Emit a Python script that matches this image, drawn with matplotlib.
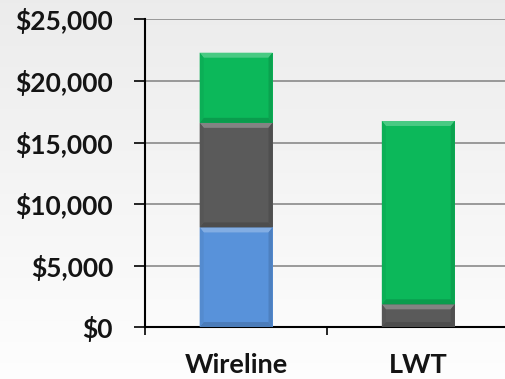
import numpy as np
import matplotlib.pyplot as plt
from matplotlib.patches import Polygon
from matplotlib.colors import to_rgb

categories = ['Wireline', 'LWT']
blue_vals = [8100, 0]
gray_vals = [8500, 1850]
green_vals = [5700, 14900]

colors = {'blue': '#5892da', 'gray': '#5a5a5a', 'green': '#0cb85a'}


def shade(c, f):
    r = np.array(to_rgb(c))
    if f > 0:
        return tuple(r + (1 - r) * f)
    return tuple(r * (1 + f))


plt.rcParams['font.family'] = ['Lato', 'DejaVu Sans']
fig = plt.figure(figsize=(5.06, 3.79), dpi=100)

# soft vertical gradient behind everything
bg = fig.add_axes([0, 0, 1, 1], zorder=-1)
grad = np.linspace(0.925, 0.995, 256).reshape(-1, 1)
bg.imshow(np.dstack([grad, grad, grad]), aspect='auto', extent=[0, 1, 0, 1])
bg.axis('off')

ax = fig.add_axes([0.2866, 0.137, 0.72, 0.8116])
ax.patch.set_alpha(0)

x = np.arange(len(categories))
w = 0.4
bottoms = np.zeros(len(categories))
bars = []
for vals, key in [(blue_vals, 'blue'), (gray_vals, 'gray'), (green_vals, 'green')]:
    bc = ax.bar(x, vals, w, bottom=bottoms, color=colors[key], zorder=3)
    for p in bc:
        bars.append((p, colors[key]))
    bottoms += np.array(vals)

ax.set_ylim(0, 25000)
ax.set_xlim(-0.5, 1.5)

# bevel edges on each segment
fig.canvas.draw()
inv = ax.transData.inverted()
for p, c in bars:
    h = p.get_height()
    if h <= 0:
        continue
    x0, y0 = p.get_x(), p.get_y()
    x1, y1 = x0 + p.get_width(), y0 + h
    dx = abs(inv.transform((4, 0))[0] - inv.transform((0, 0))[0])
    dy = abs(inv.transform((0, 5))[1] - inv.transform((0, 0))[1])
    dy = min(dy, h / 3)
    faces = [
        ([(x0, y1), (x1, y1), (x1 - dx, y1 - dy), (x0 + dx, y1 - dy)], 0.25),
        ([(x0, y0), (x1, y0), (x1 - dx, y0 + dy), (x0 + dx, y0 + dy)], -0.15),
        ([(x0, y0), (x0, y1), (x0 + dx, y1 - dy), (x0 + dx, y0 + dy)], -0.05),
        ([(x1, y0), (x1, y1), (x1 - dx, y1 - dy), (x1 - dx, y0 + dy)], -0.12),
    ]
    for pts, f in faces:
        ax.add_patch(Polygon(pts, closed=True, color=shade(c, f), lw=0, zorder=4))

ax.set_yticks(np.arange(0, 25001, 5000))
ax.set_yticklabels(['${:,}'.format(v) for v in range(0, 25001, 5000)],
                   fontsize=19, fontweight='bold', color='#141414')
ax.grid(axis='y', color='#8a8a8a', linewidth=1.2, zorder=0)
ax.set_axisbelow(True)

ax.set_xticks(x)
ax.set_xticklabels(categories, fontsize=19.5, fontweight='bold', color='#141414')
ax.set_xticks([-0.5, 0.5, 1.5], minor=True)
ax.tick_params(axis='x', which='major', length=0, pad=19)
ax.tick_params(axis='x', which='minor', length=6, width=1.2, color='black')
ax.tick_params(axis='y', length=8, width=1.2, color='black', pad=15)

for s in ['top', 'right']:
    ax.spines[s].set_visible(False)
for s in ['left', 'bottom']:
    ax.spines[s].set_linewidth(1.5)
    ax.spines[s].set_color('black')

fig.savefig('out.png', dpi=100)
